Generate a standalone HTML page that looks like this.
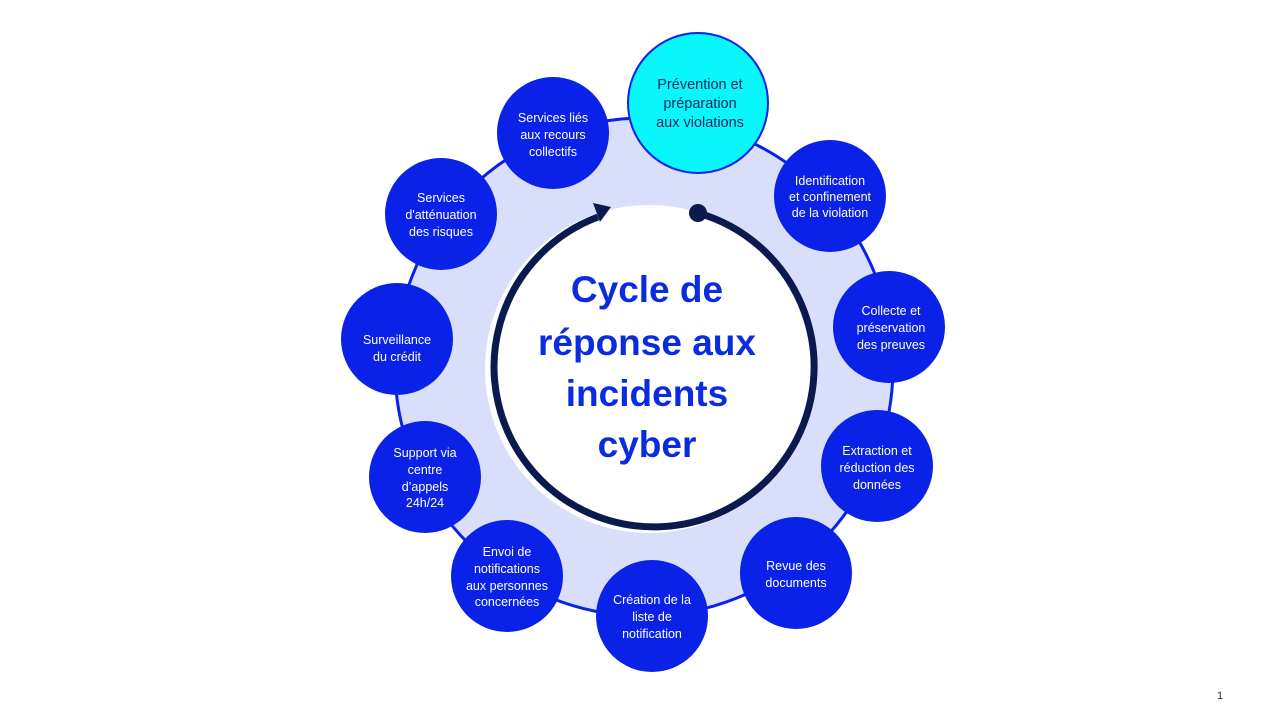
<!DOCTYPE html>
<html><head><meta charset="utf-8"><style>
html,body{margin:0;padding:0;background:#fff;}
svg{display:block;font-family:"Liberation Sans",sans-serif;}
</style></head><body>
<svg width="1280" height="720" viewBox="0 0 1280 720">
<circle cx="644" cy="367" r="249" fill="#d9dffa" stroke="#0a22e8" stroke-width="3"/>
<circle cx="649" cy="369" r="164" fill="#fff"/>
<path d="M698,213 A160,160 0 1 1 598,217" fill="none" stroke="#0b1a4e" stroke-width="7"/>
<path d="M611,207 L593,203 L600,222 z" fill="#0b1a4e"/>
<circle cx="698" cy="213" r="9" fill="#0b1a4e"/>
<g fill="#0a2be0" font-weight="bold" font-size="37" text-anchor="middle">
<text x="647" y="302">Cycle de</text>
<text x="647" y="355">réponse aux</text>
<text x="647" y="406">incidents</text>
<text x="647" y="457">cyber</text>
</g>
<circle cx="698" cy="103" r="70" fill="#08f6fc" stroke="#0a22e8" stroke-width="2"/>
<g fill="#1a2a5a" font-size="14.5" text-anchor="middle">
<text x="700" y="89">Prévention et</text>
<text x="700" y="108">préparation</text>
<text x="700" y="127">aux violations</text>
</g>
<g fill="#0a22e8">
<circle cx="830" cy="196" r="56"/>
<circle cx="889" cy="327" r="56"/>
<circle cx="877" cy="466" r="56"/>
<circle cx="796" cy="573" r="56"/>
<circle cx="652" cy="616" r="56"/>
<circle cx="507" cy="576" r="56"/>
<circle cx="425" cy="477" r="56"/>
<circle cx="397" cy="339" r="56"/>
<circle cx="441" cy="214" r="56"/>
<circle cx="553" cy="133" r="56"/>
</g>
<g fill="#fff" font-size="12.5" text-anchor="middle">
<text x="830" y="185">Identification</text><text x="830" y="201">et confinement</text><text x="830" y="217">de la violation</text>
<text x="891" y="315">Collecte et</text><text x="891" y="332">préservation</text><text x="891" y="349">des preuves</text>
<text x="877" y="455">Extraction et</text><text x="877" y="472">réduction des</text><text x="877" y="489">données</text>
<text x="796" y="570">Revue des</text><text x="796" y="587">documents</text>
<text x="652" y="604">Création de la</text><text x="652" y="621">liste de</text><text x="652" y="638">notification</text>
<text x="507" y="556">Envoi de</text><text x="507" y="573">notifications</text><text x="507" y="590">aux personnes</text><text x="507" y="606">concernées</text>
<text x="425" y="457">Support via</text><text x="425" y="474">centre</text><text x="425" y="491">d’appels</text><text x="425" y="507">24h/24</text>
<text x="397" y="344">Surveillance</text><text x="397" y="361">du crédit</text>
<text x="441" y="202">Services</text><text x="441" y="219">d'atténuation</text><text x="441" y="236">des risques</text>
<text x="553" y="122">Services liés</text><text x="553" y="139">aux recours</text><text x="553" y="156">collectifs</text>
</g>
<text x="1220" y="699" font-size="11" fill="#333" text-anchor="middle">1</text>
</svg>
</body></html>
